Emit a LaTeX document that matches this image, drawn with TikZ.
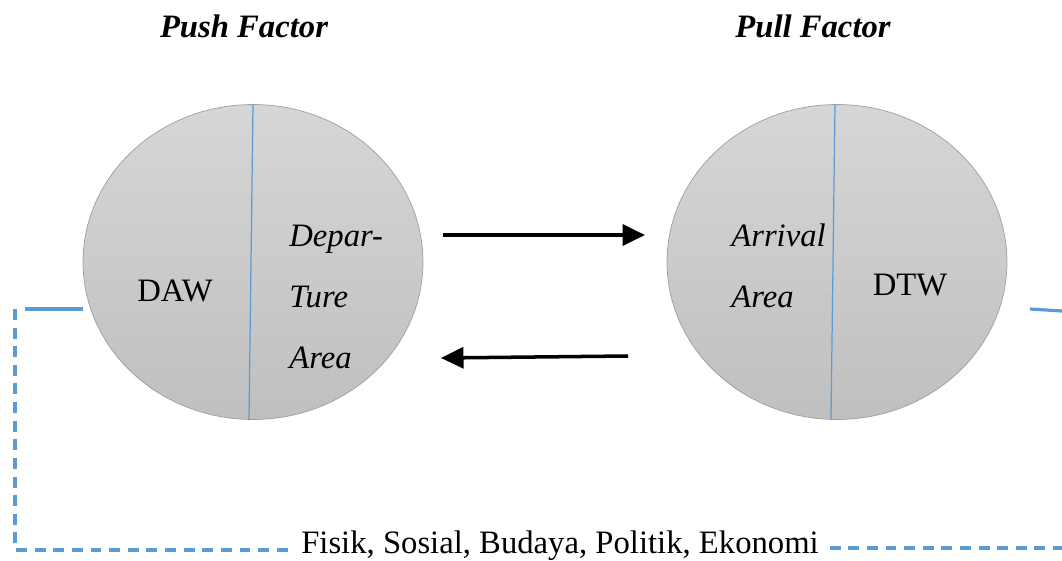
\documentclass[tikz,border=0pt]{standalone}
\usepackage{fontspec}
\setmainfont{Liberation Serif}
\usetikzlibrary{shapes.geometric, arrows.meta, positioning, calc}
\definecolor{tieblue}{RGB}{91,155,213}

\begin{document}
\begin{tikzpicture}[x=0.02cm, y=-0.02cm,
    area/.style={draw=black!38, ellipse, minimum width=6.8cm, minimum height=6.3cm, top color=black!16, bottom color=black!25},
    lbl/.style={font=\fontsize{18.6}{22}\selectfont, inner sep=0pt},
    head/.style={font=\fontsize{18.6}{22}\selectfont\bfseries\itshape, inner sep=0pt},
    split/.style={draw=tieblue, line width=0.7pt},
    flow/.style={draw, line width=2pt, -{Triangle[length=4.5mm, width=4.2mm]}},
    tie/.style={draw=tieblue, line width=1.8pt},
    tiedash/.style={tie, dash pattern=on 6.2pt off 4.4pt}
]
    \useasboundingbox (0,0) rectangle (1062,561);

    % the two areas
    \node[area] (daw) at (253,262) {};
    \node[area] (dtw) at (837,262) {};
    \draw[split] (253,105) -- (249,420);
    \draw[split] (835,105) -- (831,420);

    \node[head, anchor=base] (push) at (244,37) {Push Factor};
    \node[head, anchor=base] (pull) at (813,37) {Pull Factor};

    \node[lbl, anchor=base] (dawt) at (175,301) {DAW};
    \node[lbl, anchor=base west] (dep1) at (289,246) {\itshape Depar-};
    \node[lbl, anchor=base west] (dep2) at (289,307) {\itshape Ture};
    \node[lbl, anchor=base west] (dep3) at (289,368) {\itshape Area};

    \node[lbl, anchor=base west] (arr1) at (731,246) {\itshape Arrival};
    \node[lbl, anchor=base west] (arr2) at (731,307) {\itshape Area};
    \node[lbl, anchor=base] (dtwt) at (910,295) {DTW};

    % arrows between areas
    \coordinate (go1) at (443,235);
    \coordinate (go2) at (645,235);
    \coordinate (back1) at (628,356);
    \coordinate (back2) at (441,358);
    \draw[flow] (go1) -- (go2);
    \draw[flow] (back1) -- (back2);

    % factors
    \node[lbl, anchor=base] (faktor) at (560,553) {Fisik, Sosial, Budaya, Politik, Ekonomi};
    \coordinate (lcorner) at (15,550);
    \coordinate (ltop) at (15,309);
    \coordinate (lstart) at (25,309);
    \coordinate (rend) at (1062,548);
    \coordinate (rstart) at (1030,309);
    \coordinate (rstop) at (1062,311);

    \draw[tie] (lstart) -- (daw.west |- lstart);
    \draw[tie] (rstart) -- (rstop);
    \draw[tiedash] (ltop) -- (lcorner) -- ([xshift=-7pt]faktor.west |- lcorner);
    \draw[tiedash] ([xshift=6pt]faktor.east |- rend) -- (rend);
\end{tikzpicture}
\end{document}
